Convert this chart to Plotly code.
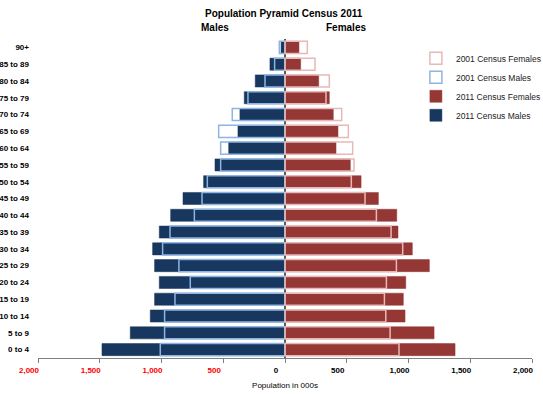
import plotly.graph_objects as go

categories = ["0 to 4", "5 to 9", "10 to 14", "15 to 19", "20 to 24", "25 to 29",
              "30 to 34", "35 to 39", "40 to 44", "45 to 49", "50 to 54", "55 to 59",
              "60 to 64", "65 to 69", "70 to 74", "75 to 79", "80 to 84", "85 to 89", "90+"]
males_2011 = [1482, 1253, 1091, 1056, 1018, 1056, 1072, 1018, 926, 826, 659, 567,
              456, 381, 365, 330, 241, 122, 32]
males_2001 = [1010, 975, 975, 891, 767, 859, 991, 931, 734, 672, 629, 521,
              521, 537, 427, 300, 162, 84, 46]
females_2011 = [1377, 1207, 972, 958, 978, 1169, 1031, 915, 905, 756, 616, 529,
                413, 429, 391, 359, 273, 127, 113]
females_2001 = [923, 851, 816, 805, 821, 902, 953, 859, 740, 648, 537, 559,
                548, 513, 459, 332, 359, 243, 181]
tick_vals = [-2000, -1500, -1000, -500, 0, 500, 1000, 1500, 2000]
tick_text = ["2,000", "1,500", "1,000", "500", "0", "500", "1,000", "1,500", "2,000"]

NAVY = "#17375E"
RED = "#953735"
LBLUE = "#8DB4E2"
PINK = "#E6B9B8"
FONT = "Liberation Sans, Arial, sans-serif"

fig = go.Figure()
fig.add_trace(go.Bar(y=categories, x=[-v for v in males_2011], orientation="h",
                     name="2011 Census Males", marker=dict(color=NAVY, line=dict(color=NAVY, width=0.5))))
fig.add_trace(go.Bar(y=categories, x=females_2011, orientation="h",
                     name="2011 Census Females", marker=dict(color=RED, line=dict(color=RED, width=0.5))))
fig.add_trace(go.Bar(y=categories, x=[-v for v in males_2001], orientation="h",
                     name="2001 Census Males",
                     marker=dict(color="rgba(0,0,0,0)", line=dict(color=LBLUE, width=1.5))))
fig.add_trace(go.Bar(y=categories, x=females_2001, orientation="h",
                     name="2001 Census Females",
                     marker=dict(color="rgba(0,0,0,0)", line=dict(color=PINK, width=1.5))))

ticktext_col = []
for v, t in zip(tick_vals, tick_text):
    if v < 0:
        ticktext_col.append(f"<b><span style='color:#FF0000'>{t}</span></b>")
    else:
        ticktext_col.append(f"<b>{t}</b>")
cat_text = [f"<b>{c}</b>" for c in categories]

fig.update_layout(
    width=543, height=394,
    margin=dict(l=38, r=11, t=39, b=36, autoexpand=False),
    barmode="overlay", bargap=0.28,
    plot_bgcolor="white", paper_bgcolor="white",
    font=dict(family=FONT, size=8, color="#000000"),
    showlegend=True,
    legend=dict(x=0.765, y=0.985, xanchor="left", yanchor="top",
                traceorder="reversed", font=dict(size=8.5, color="#222222"),
                bgcolor="rgba(0,0,0,0)", itemwidth=30),
    xaxis=dict(range=[-2000, 2000], tickvals=tick_vals, ticktext=ticktext_col,
               showgrid=False, zeroline=True, zerolinecolor="#595959", zerolinewidth=1.5,
               showline=True, linecolor="#808080", linewidth=1,
               ticks="outside", ticklen=4, tickcolor="#808080",
               tickfont=dict(size=8), ticklabelshift=-9,
               title=dict(text="Population in 000s", font=dict(size=8), standoff=8),
               layer="above traces", fixedrange=True),
    yaxis=dict(categoryorder="array", categoryarray=categories, range=[-0.5, 18.5],
               tickvals=categories, ticktext=cat_text,
               showgrid=False, zeroline=False, showline=False, ticks="",
               tickfont=dict(size=8), ticklabelstandoff=8, fixedrange=True),
    annotations=[
        dict(text="<b>Population Pyramid Census 2011</b>", xref="paper", yref="paper",
             x=(284 - 38) / 494, y=(358 - 14) / 319, showarrow=False,
             font=dict(size=10), xanchor="center", yanchor="middle"),
        dict(text="<b>Males</b>", xref="paper", yref="paper",
             x=(215 - 38) / 494, y=(358 - 28) / 319, showarrow=False,
             font=dict(size=10), xanchor="center", yanchor="middle"),
        dict(text="<b>Females</b>", xref="paper", yref="paper",
             x=(346 - 38) / 494, y=(358 - 28) / 319, showarrow=False,
             font=dict(size=10), xanchor="center", yanchor="middle"),
    ],
)

fig.write_html("out.html")
